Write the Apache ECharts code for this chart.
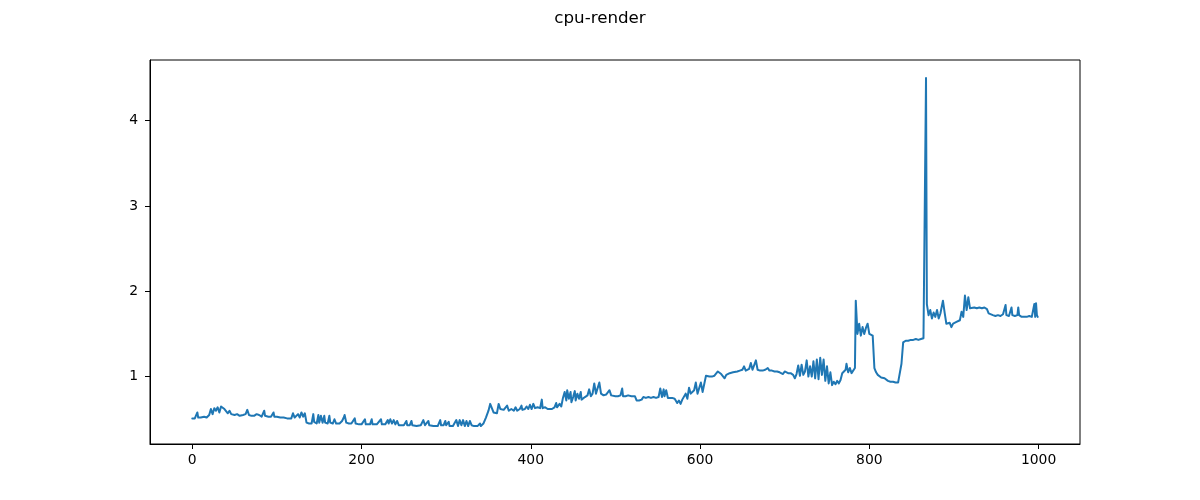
<!DOCTYPE html>
<html>
<head>
<meta charset="utf-8">
<script src="https://cdn.jsdelivr.net/npm/echarts@6/dist/echarts.min.js"></script>
<style>html,body{margin:0;padding:0;background:#fff}#c{width:1200px;height:500px}</style>
</head>
<body>
<div id="c"></div>
<script>
const title = "cpu-render";
const xTicks = [0, 200, 400, 600, 800, 1000];
const yTicks = [1, 2, 3, 4];
const xs = [0,3,5,6,7,10,14,17,20,22,24,26,28,30,32,34,36,38,40,42,44,46,48,50,53,56,60,63,65,67,70,73,76,79,82,85,86,90,93,96,97,100,104,108,112,117,119,121,
122,125,127,129,131,133,135,138,141,143,144,147,149,150,152,154,156,157,160,162,163,166,168,170,174,177,179,180,182,185,188,192,193,197,200,204,205,210,212,213,218,223,224,228,231,232,234,236,238,240,242,244,
247,250,253,254,257,259,260,265,270,273,275,279,280,285,290,293,294,297,299,300,303,304,308,312,314,316,318,320,322,324,326,328,330,333,337,340,341,344,347,350,352,354,356,358,360,362,364,366,368,
370,372,374,377,380,382,384,387,389,390,393,395,397,399,401,403,405,408,411,413,414,417,420,422,425,428,430,431,434,436,438,440,442,443,445,447,448,450,452,453,455,457,459,460,462,464,467,469,471,473,475,477,479,481,483,486,489,491,493,495,
497,500,503,506,508,509,512,515,517,519,521,523,525,528,531,533,536,539,542,545,548,551,553,555,557,558,560,562,564,567,570,573,575,577,579,581,583,585,587,589,591,593,595,597,599,601,603,605,607,609,
611,614,617,619,621,623,625,627,629,631,633,635,637,639,641,644,647,650,652,654,656,658,660,662,664,666,667,668,671,674,677,680,682,685,688,691,694,696,698,700,702,704,707,710,712,714,716,718,720,722,724,726,728,730,
732,734,736,738,740,742,744,746,748,750,752,754,756,758,760,762,764,766,768,770,772,773,775,777,779,781,783,784,786,788,790,792,794,796,798,800,802,804,806,808,810,812,814,816,818,820,822,825,828,831,834,836,838,840,843,846,849,852,855,858,861,864,866,867,868,
870,872,874,876,878,880,882,884,886,887,889,891,893,895,897,899,901,903,905,907,909,911,913,915,917,919,921,924,927,930,933,936,939,941,943,946,949,952,955,958,960,961,962,965,968,969,972,975,976,977,980,983,986,989,992,994,995,996,997,998,999];
const ys = [0.51,0.51,0.52,0.58,0.52,0.52,0.53,0.52,0.55,0.62,0.56,0.63,0.60,0.64,0.58,0.65,0.66,0.62,0.64,0.57,0.60,0.56,0.58,0.55,0.56,0.54,0.55,0.56,0.61,0.55,0.54,0.54,0.56,0.55,0.53,0.60,0.54,0.53,0.53,0.58,0.53,0.53,0.52,0.52,0.51,0.51,0.57,0.52,
0.53,0.56,0.52,0.58,0.53,0.57,0.46,0.45,0.45,0.56,0.47,0.45,0.55,0.46,0.54,0.46,0.54,0.46,0.45,0.54,0.46,0.45,0.50,0.45,0.45,0.48,0.52,0.55,0.46,0.45,0.45,0.51,0.45,0.44,0.44,0.50,0.44,0.44,0.50,0.44,0.44,0.50,0.44,0.44,0.49,0.45,0.50,0.45,0.49,0.44,0.48,0.43,
0.43,0.43,0.48,0.43,0.43,0.48,0.43,0.42,0.43,0.49,0.43,0.48,0.43,0.42,0.42,0.49,0.43,0.43,0.48,0.43,0.47,0.42,0.42,0.49,0.42,0.49,0.43,0.49,0.42,0.48,0.42,0.48,0.43,0.42,0.42,0.45,0.42,0.45,0.52,0.60,0.68,0.66,0.58,0.60,0.57,0.68,0.62,0.60,0.61,
0.62,0.66,0.60,0.62,0.60,0.64,0.60,0.62,0.66,0.61,0.62,0.65,0.62,0.67,0.62,0.68,0.63,0.64,0.63,0.73,0.63,0.64,0.62,0.63,0.62,0.64,0.69,0.64,0.68,0.65,0.75,0.82,0.72,0.84,0.74,0.82,0.70,0.76,0.83,0.72,0.80,0.74,0.82,0.73,0.74,0.76,0.78,0.85,0.77,0.80,0.92,0.80,0.78,0.93,0.80,0.78,0.79,0.80,0.84,0.78,
0.78,0.77,0.77,0.78,0.86,0.77,0.77,0.78,0.80,0.77,0.76,0.77,0.72,0.72,0.73,0.76,0.75,0.76,0.75,0.76,0.75,0.76,0.86,0.76,0.85,0.77,0.84,0.75,0.77,0.75,0.74,0.69,0.72,0.68,0.73,0.75,0.80,0.74,0.87,0.80,0.78,0.84,0.93,0.80,0.82,0.93,0.82,0.84,1.01,1.01,
1.00,1.00,1.01,1.03,1.06,1.04,1.03,1.02,0.98,1.02,1.03,1.04,1.06,1.05,1.05,1.06,1.07,1.08,1.12,1.07,1.08,1.09,1.16,1.08,1.08,1.19,1.17,1.08,1.07,1.07,1.08,1.10,1.07,1.07,1.06,1.06,1.05,1.06,1.03,1.06,1.05,1.04,1.04,1.02,0.98,1.03,1.13,1.01,1.14,1.02,1.06,1.19,1.00,1.12,
1.00,1.18,0.98,1.20,0.97,1.22,1.02,1.20,0.95,1.12,0.92,1.05,0.90,0.94,0.91,0.95,0.92,0.96,1.04,1.02,1.08,1.15,1.05,1.10,1.04,1.05,1.10,1.89,1.50,1.62,1.48,1.58,1.50,1.57,1.62,1.50,1.52,1.48,1.10,1.05,1.02,1.04,0.99,1.01,0.98,0.96,0.95,0.94,0.94,0.93,0.93,0.95,1.15,1.40,1.42,1.42,1.43,1.43,1.44,1.43,1.44,1.45,1.45,4.50,1.85,
1.72,1.78,1.68,1.75,1.70,1.78,1.68,1.74,1.72,1.89,1.75,1.62,1.60,1.63,1.58,1.62,1.60,1.64,1.62,1.66,1.76,1.70,1.95,1.78,1.93,1.80,1.82,1.81,1.80,1.81,1.80,1.81,1.79,1.74,1.72,1.72,1.71,1.72,1.71,1.73,1.72,1.84,1.72,1.71,1.81,1.72,1.71,1.72,1.81,1.72,1.70,1.70,1.70,1.71,1.70,1.72,1.85,1.70,1.86,1.72,1.70];

const chart = echarts.init(document.getElementById('c'), null, {renderer: 'canvas'});
const font = 'DejaVu Sans';
chart.setOption({
  animation: false,
  backgroundColor: '#ffffff',
  title: {
    text: title, left: 'center', top: 5,
    textStyle: {fontFamily: font, fontSize: 16.7, fontWeight: 'normal', color: '#000'}
  },
  grid: {left: 150, right: 120, top: 60, bottom: 56, show: true, borderColor: '#000', borderWidth: 1, containLabel: false},
  xAxis: {
    type: 'value', min: -49.95, max: 1048.95,
    splitLine: {show: false},
    axisLine: {show: true, onZero: false, lineStyle: {color: '#000', width: 1}},
    axisTick: {show: true, length: 5, inside: false, customValues: xTicks, lineStyle: {color: '#000'}},
    axisLabel: {customValues: xTicks, formatter: v => String(v), margin: 9, color: '#000', fontFamily: font, fontSize: 13.9}
  },
  yAxis: {
    type: 'value', min: 0.21, max: 4.71,
    splitLine: {show: false},
    axisLine: {show: true, onZero: false, lineStyle: {color: '#000', width: 1}},
    axisTick: {show: true, length: 5, inside: false, customValues: yTicks, lineStyle: {color: '#000'}},
    axisLabel: {customValues: yTicks, formatter: v => String(v), margin: 12, color: '#000', fontFamily: font, fontSize: 13.9}
  },
  series: [{
    type: 'line', data: xs.map((x, i) => [x, ys[i]]),
    showSymbol: false, symbol: 'none',
    lineStyle: {color: '#1f77b4', width: 2, join: 'round', cap: 'round'}, itemStyle: {color: '#1f77b4'}
  }]
});
</script>
</body>
</html>
